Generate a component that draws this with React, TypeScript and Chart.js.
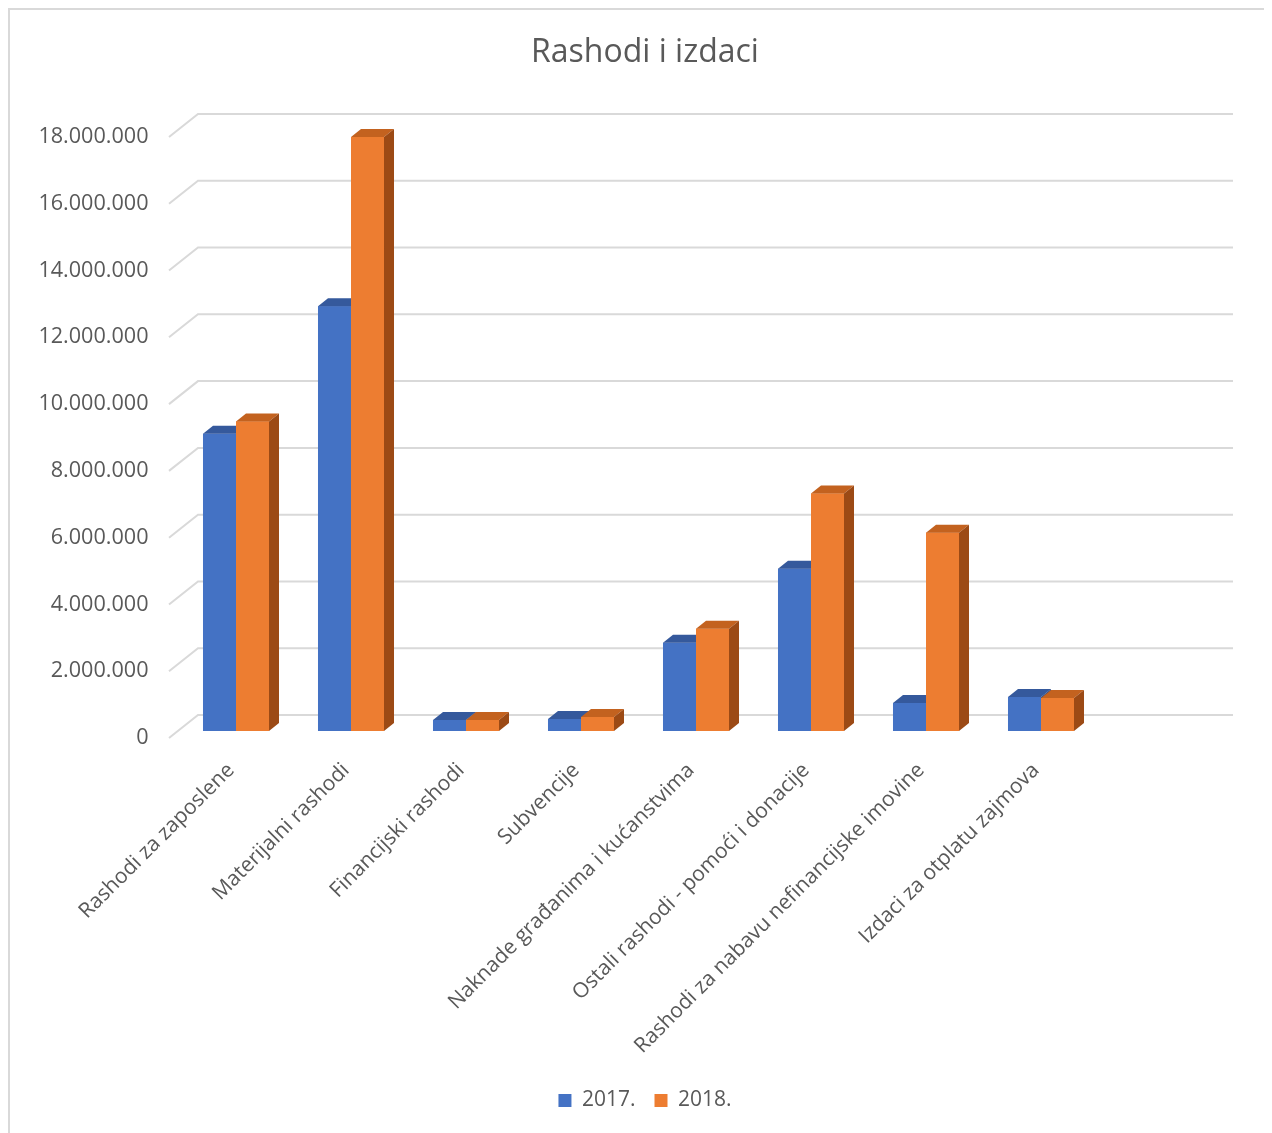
import React, { useEffect, useRef } from 'react';
import { Chart, registerables } from 'chart.js';

Chart.register(...registerables);

// ---- data ----
const categories = [
  'Rashodi za zaposlene',
  'Materijalni rashodi',
  'Financijski rashodi',
  'Subvencije',
  'Naknade građanima i kućanstvima',
  'Ostali rashodi - pomoći i donacije',
  'Rashodi za nabavu nefinancijske imovine',
  'Izdaci za otplatu zajmova',
  '',
];
const values2017 = [8900000, 12720000, 330000, 360000, 2640000, 4860000, 840000, 1020000, null];
const values2018 = [9270000, 17790000, 330000, 420000, 3060000, 7110000, 5940000, 990000, null];
const seriesNames = ['2017.', '2018.'];
const yMax = 18000000;
const yStep = 2000000;
const chartTitle = 'Rashodi i izdaci';

// ---- styles ----
const FONT = 'Open Sans';
const TEXT = '#595959';
const GRID = '#d9d9d9';
const FRONT_COLORS = ['#4472C4', '#ED7D31'];
const TOP_COLORS = ['#35599c', '#c3621f'];
const SIDE_COLORS = ['#2c4c86', '#9c4a15'];
const FLOOR_FRONT = { dx: -9.5, dy: 7 };
const FLOOR_BACK = { dx: 19.5, dy: -16 };
const BAR_DEPTH = { dx: 10, dy: -8 };

const fmt = (v: number) => String(v).replace(/\B(?=(\d{3})+(?!\d))/g, '.');

const floorPlugin = {
  id: 'floor3d',
  beforeDatasetsDraw(chart: any) {
    const ys = chart.scales.y;
    const { left, right } = chart.chartArea;
    const ctx = chart.ctx;
    ctx.save();
    ctx.strokeStyle = GRID;
    ctx.lineWidth = 2;
    ys.ticks.forEach((t: any) => {
      const y = ys.getPixelForValue(t.value);
      ctx.beginPath();
      ctx.moveTo(left + FLOOR_FRONT.dx, y + FLOOR_FRONT.dy);
      ctx.lineTo(left + FLOOR_BACK.dx, y + FLOOR_BACK.dy);
      ctx.lineTo(right + FLOOR_BACK.dx, y + FLOOR_BACK.dy);
      ctx.stroke();
    });
    ctx.restore();
  },
};

const barsPlugin = {
  id: 'bars3d',
  afterDatasetsDraw(chart: any) {
    const ctx = chart.ctx;
    ctx.save();
    chart.data.datasets.forEach((ds: any, di: number) => {
      const meta = chart.getDatasetMeta(di);
      meta.data.forEach((el: any, i: number) => {
        if (ds.data[i] == null) return;
        const { x, y, base, width } = el.getProps(['x', 'y', 'base', 'width'], true);
        const l = x - width / 2;
        const r = x + width / 2;
        const { dx, dy } = BAR_DEPTH;
        ctx.fillStyle = FRONT_COLORS[di];
        ctx.fillRect(l, y, width, base - y);
        ctx.fillStyle = TOP_COLORS[di];
        ctx.beginPath();
        ctx.moveTo(l, y);
        ctx.lineTo(r, y);
        ctx.lineTo(r + dx, y + dy);
        ctx.lineTo(l + dx, y + dy);
        ctx.closePath();
        ctx.fill();
        ctx.fillStyle = SIDE_COLORS[di];
        ctx.beginPath();
        ctx.moveTo(r, y);
        ctx.lineTo(r + dx, y + dy);
        ctx.lineTo(r + dx, base + dy);
        ctx.lineTo(r, base);
        ctx.closePath();
        ctx.fill();
      });
    });
    ctx.restore();
  },
};

export default function App() {
  const ref = useRef<HTMLCanvasElement | null>(null);

  useEffect(() => {
    document.body.style.overflow = 'hidden';
    if (!ref.current) return;
    const chart = new Chart(ref.current, {
      type: 'bar',
      data: {
        labels: categories,
        datasets: [
          { label: seriesNames[0], data: values2017, backgroundColor: FRONT_COLORS[0], borderWidth: 0 },
          { label: seriesNames[1], data: values2018, backgroundColor: FRONT_COLORS[1], borderWidth: 0 },
        ],
      },
      options: {
        responsive: false,
        animation: false,
        events: [],
        categoryPercentage: 0.574,
        barPercentage: 1,
        layout: { padding: { left: 16, right: 0, top: 0, bottom: 12 } },
        plugins: {
          title: {
            display: true,
            text: chartTitle,
            color: TEXT,
            font: { family: FONT, size: 32, weight: 'normal' },
            padding: { top: 24, bottom: 57.6 },
          },
          legend: {
            position: 'bottom',
            labels: {
              color: TEXT,
              font: { family: FONT, size: 21 },
              boxWidth: 13,
              boxHeight: 13,
              padding: 19,
            },
          },
          tooltip: { enabled: false },
        },
        scales: {
          x: {
            grid: { display: false },
            border: { display: false },
            ticks: {
              color: TEXT,
              font: { family: FONT, size: 21 },
              maxRotation: 45,
              minRotation: 45,
              autoSkip: false,
              padding: 19,
              labelOffset: -5,
            },
            afterFit: (s: any) => {
              s.height = 340;
            },
          },
          y: {
            min: 0,
            max: yMax,
            grid: { display: false, drawTicks: false },
            border: { display: false },
            ticks: {
              stepSize: yStep,
              color: TEXT,
              font: { family: FONT, size: 21.6 },
              padding: 30,
              labelOffset: 7,
              callback: (v: any) => fmt(Number(v)),
            },
            afterFit: (s: any) => {
              s.width = 152.5;
            },
          },
          yRight: {
            position: 'right',
            min: 0,
            max: yMax,
            grid: { display: false, drawTicks: false },
            border: { display: false },
            ticks: { display: false },
            afterFit: (s: any) => {
              s.width = 50.5;
            },
          },
        },
      },
      plugins: [floorPlugin, barsPlugin],
    });
    return () => chart.destroy();
  }, []);

  return (
    <div
      style={{
        borderTop: '2px solid #d9d9d9',
        borderLeft: '2px solid #d9d9d9',
        width: 1256,
        height: 1125,
        boxSizing: 'border-box',
        background: '#fff',
      }}
    >
      <canvas ref={ref} width={1254} height={1123} style={{ display: 'block' }} />
    </div>
  );
}
